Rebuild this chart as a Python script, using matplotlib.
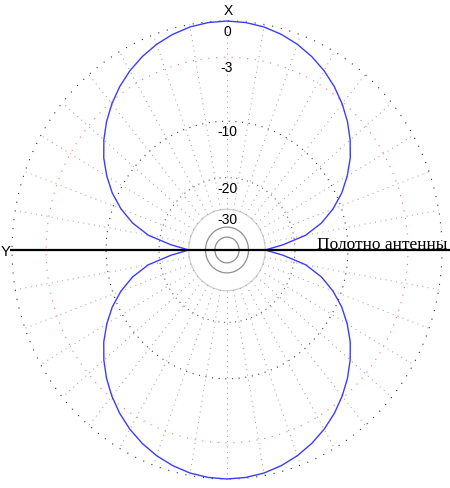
import numpy as np
import matplotlib
matplotlib.use("Agg")
import matplotlib.pyplot as plt
from matplotlib.transforms import offset_copy

# ---- data ----
# pattern: level in dB vs angle (deg) measured from the antenna canvas (Y axis), one quadrant
pattern_angles_deg = [0, 5, 10, 15, 20, 25, 30, 35, 40, 45, 50, 55, 60, 65, 70, 75, 80, 85, 90]
pattern_db = [-30.0, -23.3, -17.2, -13.7, -11.2, -9.2, -7.6, -6.2, -5.05, -4.04,
              -3.17, -2.41, -1.76, -1.22, -0.78, -0.44, -0.19, -0.05, 0.0]
ring_db = [0, -3, -10, -20, -30, -40, -50]
ring_labels = ["0", "-3", "-10", "-20", "-30"]
spoke_step_deg = 10
axis_x_label = "X"
axis_y_label = "Y"
canvas_label = "Полотно антенны"

# ---- geometry (pixels) ----
W, H = 450, 489
cx, cy = 227, 251
Rh, Rv = 215, 229


def rad(db):
    return 10 ** (np.asarray(db, dtype=float) / 40.0)


fig = plt.figure(figsize=(W / 100, H / 100), dpi=100)
ax = fig.add_axes([0, 0, 1, 1])
ax.set_xlim(-cx / Rh, (W - cx) / Rh)
ax.set_ylim(-(H - cy) / Rv, cy / Rv)
ax.axis("off")

t = np.linspace(0, 2 * np.pi, 721)
ring_styles = {
    0: dict(color="#303030", lw=0.8, ls=(0, (1, 7))),
    -3: dict(color="#ff7070", lw=0.8, ls=(0, (1, 6))),
    -10: dict(color="#404040", lw=0.8, ls=(0, (1, 5))),
    -20: dict(color="#606060", lw=0.8, ls=(0, (1, 4))),
    -30: dict(color="#d0d0d0", lw=0.9, ls="-"),
    -40: dict(color="#909090", lw=0.9, ls="-"),
    -50: dict(color="#909090", lw=0.9, ls="-"),
}
for db in ring_db:
    r = rad(db)
    ax.plot(r * np.cos(t), r * np.sin(t), zorder=1, **ring_styles[db])

# spokes
r_in, r_out = rad(-30), rad(0)
for a in range(0, 360, spoke_step_deg):
    ar = np.deg2rad(a)
    ax.plot([r_in * np.cos(ar), r_out * np.cos(ar)], [r_in * np.sin(ar), r_out * np.sin(ar)],
            color="#9a9a9a", lw=0.7, ls=(0, (1, 4.5)), zorder=1)

# pattern (mirror the quadrant into four)
ang = np.array(pattern_angles_deg, dtype=float)
dbv = np.array(pattern_db, dtype=float)
phi = np.concatenate([ang, 180 - ang[::-1], 180 + ang, 360 - ang[::-1]])
lev = np.concatenate([dbv, dbv[::-1], dbv, dbv[::-1]])
rr = rad(lev)
ph = np.deg2rad(phi)
ax.plot(rr * np.cos(ph), rr * np.sin(ph), color="#3c3cff", lw=1.0, zorder=2)

# antenna canvas line
ax.plot([(10 - cx) / Rh, (W - cx) / Rh], [0, 0], color="black", lw=1.6, zorder=3,
        solid_capstyle="butt")

# ring labels
for lab, db in zip(ring_labels, ring_db):
    tr = offset_copy(ax.transData, fig=fig, x=0, y=-10, units="dots")
    ax.text(0, rad(db), lab, transform=tr, ha="center", va="center",
            fontsize=10, family="Liberation Sans", color="black", zorder=4)

trX = offset_copy(ax.transData, fig=fig, x=1, y=11, units="dots")
ax.text(0, rad(0), axis_x_label, transform=trX, ha="center", va="center",
        fontsize=10, family="Liberation Sans", zorder=4)
ax.text(5.5 / Rh - cx / Rh, -1 / Rv, axis_y_label, ha="center", va="center",
        fontsize=10.5, family="Liberation Sans", zorder=4)
ax.text((447 - cx) / Rh, 1.5 / Rv, canvas_label, ha="right", va="baseline",
        fontsize=12.5, family="Liberation Serif", zorder=4)

fig.savefig("out.png", dpi=100)
